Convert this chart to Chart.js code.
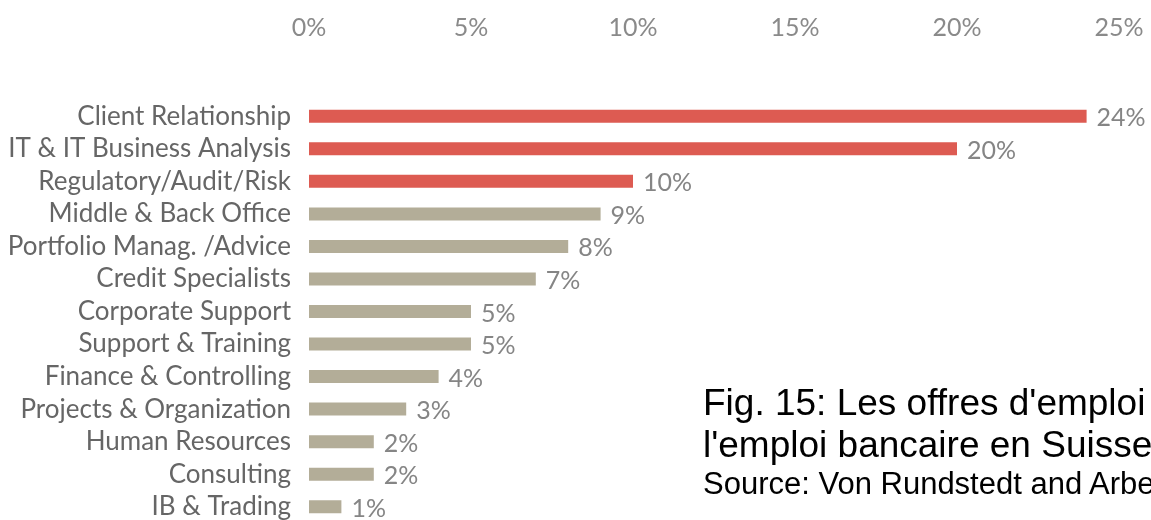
<!DOCTYPE html>
<html>
<head>
<meta charset="utf-8">
<script src="https://cdn.jsdelivr.net/npm/chart.js@4.4.1/dist/chart.umd.min.js"></script>
<style>
  html, body { margin: 0; padding: 0; background: #ffffff; overflow: hidden; width: 1151px; height: 520px; }
  #wrap { position: relative; width: 1151px; height: 520px; overflow: hidden; }
  #chart { position: absolute; left: 0; top: 0; filter: blur(0.6px); }
  .cap { position: absolute; left: 703px; font-family: "Liberation Sans", Arial, sans-serif; color: #000; white-space: nowrap; line-height: 1; }
</style>
</head>
<body>
<div id="wrap">
  <canvas id="chart" width="1151" height="523"></canvas>
  <div class="cap" style="top:384px;font-size:37px">Fig. 15: Les offres d'emploi</div>
  <div class="cap" style="top:426px;font-size:37px">l'emploi bancaire en Suisse</div>
  <div class="cap" style="top:468px;font-size:31px">Source: Von Rundstedt and Arbe</div>
</div>
<script>
// Job functions, in display order (top to bottom)
const functions = [
  'Client Relationship',
  'IT & IT Business Analysis',
  'Regulatory/Audit/Risk',
  'Middle & Back Office',
  'Portfolio Manag. /Advice',
  'Credit Specialists',
  'Corporate Support',
  'Support & Training',
  'Finance & Controlling',
  'Projects & Organization',
  'Human Resources',
  'Consulting',
  'IB & Trading'
];

// Share of job offers per function, in percent
const shares = [24, 20, 10, 9, 8, 7, 5, 5, 4, 3, 2, 2, 1];

// Functions shown in the accent colour
const accented = ['Client Relationship', 'IT & IT Business Analysis', 'Regulatory/Audit/Risk'];

// Axis range and step, in percent
const axisMin = 0;
const axisMax = 25;
const axisStep = 5;

const RED = '#dd5b52';
const TAN = '#b3ad98';
const LABEL_FONT = 'Lato, "Open Sans", sans-serif';

// Writes the percentage just past the end of each bar
const valueLabels = {
  id: 'valueLabels',
  afterDatasetsDraw(chart) {
    const { ctx } = chart;
    const meta = chart.getDatasetMeta(0);
    ctx.save();
    ctx.font = '25px ' + LABEL_FONT;
    ctx.fillStyle = '#858585';
    ctx.textAlign = 'left';
    ctx.textBaseline = 'middle';
    meta.data.forEach((bar, i) => {
      ctx.fillText(shares[i] + '%', bar.x + 10, bar.y + 2);
    });
    ctx.restore();
  }
};

new Chart(document.getElementById('chart'), {
  type: 'bar',
  data: {
    labels: functions,
    datasets: [{
      data: shares,
      backgroundColor: ctx => accented.includes(functions[ctx.dataIndex]) ? RED : TAN,
      borderWidth: 0,
      barPercentage: 0.4,
      categoryPercentage: 1
    }]
  },
  options: {
    indexAxis: 'y',
    responsive: false,
    animation: false,
    devicePixelRatio: 1,
    layout: { padding: { top: 0, right: 32, bottom: 0, left: 0 } },
    plugins: {
      legend: { display: false },
      tooltip: { enabled: false }
    },
    scales: {
      x: {
        position: 'top',
        min: axisMin,
        max: axisMax,
        grid: { display: false, drawTicks: false },
        border: { display: false },
        ticks: {
          stepSize: axisStep,
          padding: 57,
          color: '#8a8a8a',
          font: { family: LABEL_FONT, size: 25 },
          callback: v => v + '%'
        },
        afterFit: s => {
          s.height = 100;
          s.paddingLeft = 0;
          s.paddingRight = 0;
        }
      },
      y: {
        grid: { display: false, drawTicks: false },
        border: { display: false },
        ticks: {
          padding: 18,
          color: '#666666',
          font: { family: LABEL_FONT, size: 26 },
          autoSkip: false
        },
        afterFit: s => {
          s.width = 309;
          s.paddingTop = 0;
          s.paddingBottom = 0;
        }
      }
    }
  },
  plugins: [valueLabels]
});
</script>
</body>
</html>
